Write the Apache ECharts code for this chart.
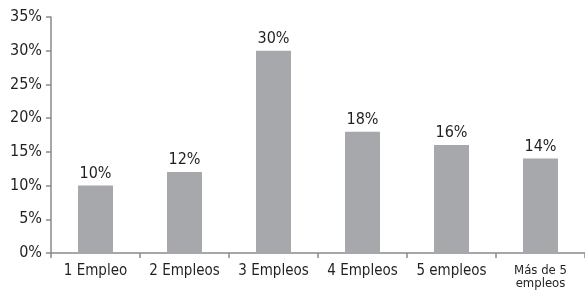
<!DOCTYPE html>
<html>
<head>
<meta charset="utf-8">
<script src="https://cdn.jsdelivr.net/npm/echarts@6/dist/echarts.min.js"></script>
<style>
html, body { margin: 0; padding: 0; background: #fff; }
#chart { width: 585px; height: 293px; }
</style>
</head>
<body>
<div id="chart"></div>
<script>
// categorias y valores
var categorias = ['1 Empleo', '2 Empleos', '3 Empleos', '4 Empleos', '5 empleos', 'Más de 5\nempleos'];
var valores = [10, 12, 30, 18, 16, 14];

var fuente = '"Liberation Sans Narrow", "DejaVu Sans Condensed", "Roboto Condensed", sans-serif';
var chart = echarts.init(document.getElementById('chart'));

var option = {
    backgroundColor: '#fff',
    animation: false,
    grid: {
        left: 51,
        right: 0,
        top: 17,
        bottom: 40,
        containLabel: false
    },
    xAxis: {
        type: 'category',
        data: categorias,
        axisLine: { lineStyle: { color: '#8a8a8c', width: 1.5 } },
        axisTick: { show: true, alignWithLabel: false, length: 5, inside: false, lineStyle: { color: '#8a8a8c', width: 1.5 } },
        axisLabel: {
            color: '#231f20',
            fontFamily: fuente,
            fontSize: 15,
            margin: 11,
            interval: 0,
            rich: {},
            formatter: function (v) {
                if (v.indexOf('\n') >= 0) return '{s|' + v.replace('\n', '}\n{s|') + '}';
                return v;
            }
        }
    },
    yAxis: {
        type: 'value',
        min: 0,
        max: 35,
        interval: 5,
        splitLine: { show: false },
        axisLine: { show: true, lineStyle: { color: '#8a8a8c', width: 1.5 } },
        axisTick: { show: true, length: 5, lineStyle: { color: '#8a8a8c', width: 1.5 } },
        axisLabel: {
            color: '#231f20',
            fontFamily: fuente,
            fontSize: 16,
            margin: 9,
            formatter: '{value}%'
        }
    },
    series: [
        {
            type: 'bar',
            data: valores,
            barWidth: 35,
            itemStyle: { color: '#a7a8ab' },
            label: {
                show: true,
                position: 'top',
                distance: 4,
                color: '#231f20',
                fontFamily: fuente,
                fontSize: 16,
                formatter: '{c}%'
            }
        }
    ]
};
option.xAxis.axisLabel.rich = {
    s: { fontFamily: fuente, fontSize: 13, lineHeight: 13, color: '#231f20' }
};

chart.setOption(option);
window.addEventListener('resize', function () {
    chart.resize();
});
</script>
</body>
</html>
